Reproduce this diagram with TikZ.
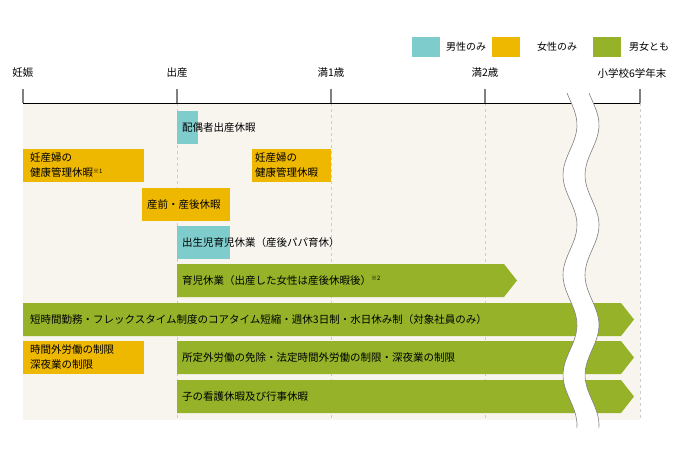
\documentclass[tikz,border=0pt]{standalone}
\usepackage{fontspec}
\setmainfont{Noto Sans CJK JP}
\definecolor{male}{HTML}{7FCCCC}
\definecolor{female}{HTML}{EEB800}
\definecolor{both}{HTML}{95B229}
\definecolor{paper}{HTML}{F8F5EF}
\begin{document}
\begin{tikzpicture}[x=1pt,y=-1pt,
	lbl/.style={font=\fontsize{10.5}{15}\selectfont,inner sep=0pt},
	leg/.style={font=\fontsize{10}{12}\selectfont,inner sep=0pt,anchor=west},
	bar/.style={anchor=north west,minimum height=33pt,inner sep=0pt},
	txt/.style={lbl,anchor=west,align=left}]
	\useasboundingbox (0,0) rectangle (691,451);
	% Hintergrund
	\fill[paper] (23,103) rectangle (640,420);
	\foreach \x in {177,331,485,640}
		\draw[gray!40,dashed,line width=0.4] (\x,103) to (\x,420);
	% Achse
	\draw[line width=0.8] (23,103) to (640,103);
	\foreach \x/\t in {23/妊娠,177/出産,331/満1歳,485/満2歳}{
		\draw[gray,line width=1.2] (\x,89) to (\x,103);
		\node[lbl] at (\x,73) {\t};}
	\draw[gray,line width=1.2] (640,89) to (640,103);
	\node[lbl] (end) at (632,73) {小学校6学年末};
	% Legende
	\fill[male] (412,37) rectangle (440,57);
	\node[leg] (lm) at (446,47) {男性のみ};
	\fill[female] (492,37) rectangle (520,57);
	\node[leg] (lf) at (537,47) {女性のみ};
	\fill[both] (593,37) rectangle (621,57);
	\node[leg] (lb) at (629,47) {男女とも};
	% Balken
	\node[bar,fill=male,minimum width=21pt] (b1) at (177,111) {};
	\node[txt] at (182,127.5) {配偶者出産休暇};
	\node[bar,fill=female,minimum width=121pt] (b2) at (23,149) {};
	\node[txt] at (30,165.5) {妊産婦の\\健康管理休暇\textsuperscript{\fontsize{6}{6}\selectfont ※1}};
	\node[bar,fill=female,minimum width=79pt] (b3) at (252,149) {};
	\node[txt] at (255,165.5) {妊産婦の\\健康管理休暇};
	\node[bar,fill=female,minimum width=88pt] (b4) at (142,188) {};
	\node[txt] at (147,204.5) {産前・産後休暇};
	\node[bar,fill=male,minimum width=53pt] (b5) at (177,226) {};
	\node[txt] at (182,242.5) {出生児育児休業（産後パパ育休）};
	\fill[both] (177,264) to (504,264) to (517,280.5) to (504,297) to (177,297) to cycle;
	\node[txt] (b6) at (182,280.5) {育児休業（出産した女性は産後休暇後）\textsuperscript{\fontsize{6}{6}\selectfont ※2}};
	\fill[both] (23,303) to (621,303) to (634,319.5) to (621,336) to (23,336) to cycle;
	\node[txt] (b7) at (30,319.5) {短時間勤務・フレックスタイム制度のコアタイム短縮・週休3日制・水日休み制（対象社員のみ）};
	\node[bar,fill=female,minimum width=121pt] (b8) at (23,341) {};
	\node[txt] at (30,357.5) {時間外労働の制限\\深夜業の制限};
	\fill[both] (177,341) to (621,341) to (634,357.5) to (621,374) to (177,374) to cycle;
	\node[txt] (b9) at (182,357.5) {所定外労働の免除・法定時間外労働の制限・深夜業の制限};
	\fill[both] (177,380) to (621,380) to (634,396.5) to (621,413) to (177,413) to cycle;
	\node[txt] (b10) at (182,396.5) {子の看護休暇及び行事休暇};
	% Wellenlinie
	\fill[white] plot[domain=93:428,samples=80,smooth,variable=\t] ({570+7*sin(\t*3.6)},\t)
		-- plot[domain=428:93,samples=80,smooth,variable=\t] ({592+7*sin(\t*3.6)},\t) -- cycle;
	\draw[gray,line width=0.6] plot[domain=93:428,samples=80,smooth,variable=\t] ({570+7*sin(\t*3.6)},\t);
	\draw[gray,line width=0.6] plot[domain=93:428,samples=80,smooth,variable=\t] ({592+7*sin(\t*3.6)},\t);
\end{tikzpicture}
\end{document}
